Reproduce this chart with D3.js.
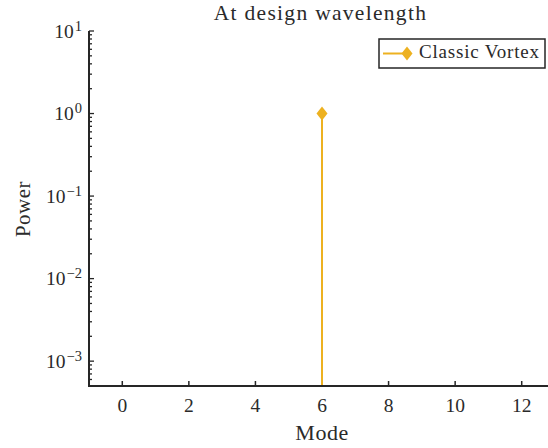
<!DOCTYPE html>
<html><head><meta charset="utf-8">
<script src="https://cdn.jsdelivr.net/npm/d3@7"></script>
<style>
body{margin:0;background:#fff;}
text{font-family:"Liberation Serif","Times New Roman",serif;fill:#2a2a2a;}
</style></head>
<body>
<svg id="c" width="548" height="448"></svg>
<script>
const modes = [6];
const power = [1];
const seriesName = "Classic Vortex";
const xTicks = [0, 2, 4, 6, 8, 10, 12];
const yExps = [1, 0, -1, -2, -3];
const titleText = "At design wavelength";
const xLabel = "Mode";
const yLabel = "Power";

const svg = d3.select("#c");
const color = "#EDB120";
const ink = "#262626";
const L = 89, R = 555, T = 31, B = 386;
const x = d3.scaleLinear().domain([-1, 13]).range([L, R]);
const y = d3.scaleLog().domain([5e-4, 10]).range([B, T]);
const diamond = (w, h) => `M0,${-h/2}L${w/2},0L0,${h/2}L${-w/2},0Z`;

svg.append("line").attr("x1", L).attr("x2", L).attr("y1", T).attr("y2", B + 1)
  .attr("stroke", ink).attr("stroke-width", 2);
svg.append("line").attr("x1", L - 1).attr("x2", R).attr("y1", B).attr("y2", B)
  .attr("stroke", ink).attr("stroke-width", 2);

const gx = svg.append("g");
xTicks.forEach(t => {
  gx.append("line").attr("x1", x(t)).attr("x2", x(t)).attr("y1", B).attr("y2", B - 5)
    .attr("stroke", ink).attr("stroke-width", 1.5);
  gx.append("text").attr("x", x(t)).attr("y", B + 26).attr("text-anchor", "middle")
    .attr("font-size", 19.5).text(t);
});

const gy = svg.append("g");
for (let e = -4; e <= 1; e++) {
  for (let m = 1; m <= 9; m++) {
    const v = m * Math.pow(10, e);
    if (v < 5e-4 || v > 10) continue;
    const len = m === 1 ? 5 : 3;
    gy.append("line").attr("x1", L).attr("x2", L + len).attr("y1", y(v)).attr("y2", y(v))
      .attr("stroke", ink).attr("stroke-width", 1.3);
  }
}
yExps.forEach(e => {
  const t = gy.append("text").attr("x", 82).attr("y", y(Math.pow(10, e)) + 6.5)
    .attr("text-anchor", "end").attr("font-size", 19.5);
  t.append("tspan").text("10");
  t.append("tspan").attr("dy", -7).attr("dx", 1).attr("font-size", 14.5).text(e < 0 ? "\u2212" + (-e) : e);
});

modes.forEach((m, i) => {
  svg.append("line").attr("x1", x(m)).attr("x2", x(m)).attr("y1", B - 1).attr("y2", y(power[i]))
    .attr("stroke", color).attr("stroke-width", 2);
  svg.append("path").attr("d", diamond(11, 14))
    .attr("transform", `translate(${x(m)},${y(power[i])})`).attr("fill", color);
});

svg.append("text").attr("x", 320.5).attr("y", 20).attr("text-anchor", "middle")
  .attr("font-size", 21.5).attr("letter-spacing", 1.3).text(titleText);
svg.append("text").attr("x", 322).attr("y", 440).attr("text-anchor", "middle")
  .attr("font-size", 22).attr("letter-spacing", 0.5).text(xLabel);
svg.append("text").attr("transform", "translate(30,209) rotate(-90)").attr("text-anchor", "middle")
  .attr("font-size", 21).attr("letter-spacing", 0.5).text(yLabel);

const lg = svg.append("g");
lg.append("rect").attr("x", 379).attr("y", 39).attr("width", 166).attr("height", 29)
  .attr("fill", "#fff").attr("stroke", ink).attr("stroke-width", 1.5);
lg.append("line").attr("x1", 383).attr("x2", 404).attr("y1", 53.5).attr("y2", 53.5)
  .attr("stroke", color).attr("stroke-width", 2);
lg.append("path").attr("d", diamond(11, 14))
  .attr("transform", "translate(407,53.5)").attr("fill", color);
lg.append("text").attr("x", 419).attr("y", 58).attr("font-size", 19).attr("letter-spacing", 0.8).text(seriesName);
</script>
</body></html>
